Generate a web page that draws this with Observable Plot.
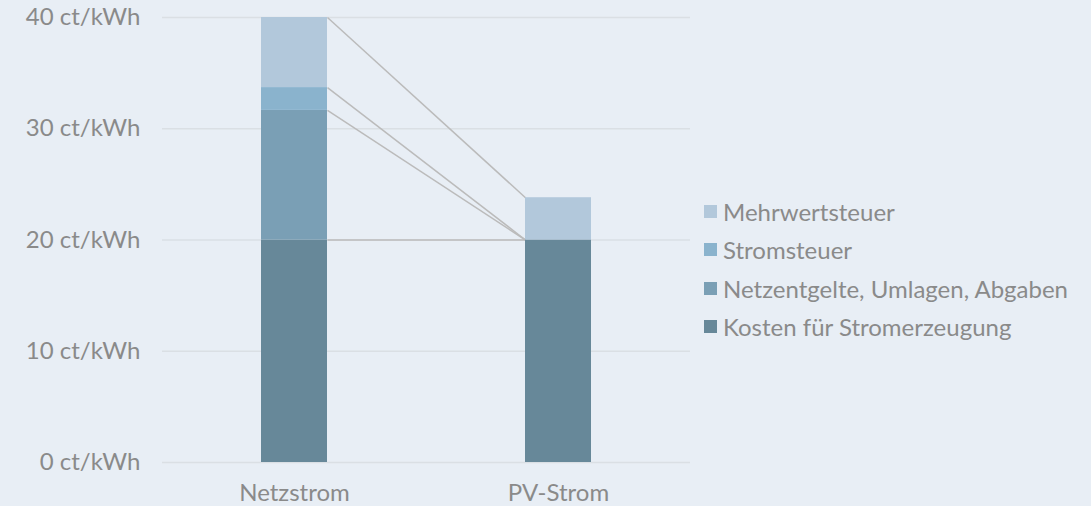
<!DOCTYPE html>
<html>
<head>
<meta charset="utf-8">
<script src="https://cdn.jsdelivr.net/npm/d3@7"></script>
<script src="https://cdn.jsdelivr.net/npm/@observablehq/plot@0.6"></script>
<style>
  html, body { margin: 0; padding: 0; background: #e8eef5; }
  #wrap { position: relative; width: 1091px; height: 506px; font-family: Lato, "Open Sans", sans-serif; }
  #legend { position: absolute; left: 704px; top: 192px; color: #8a8a8a; font-size: 24px; }
  .item { display: flex; align-items: center; height: 38.5px; white-space: nowrap; }
  .sw { width: 13px; height: 13px; margin-right: 6px; }
</style>
</head>
<body>
<div id="wrap"><div id="legend"></div></div>
<script>
const categories = ["Netzstrom", "PV-Strom"];
const components = ["Kosten für Stromerzeugung", "Netzentgelte, Umlagen, Abgaben", "Stromsteuer", "Mehrwertsteuer"];
const netzstromValues = [20, 11.65, 2.05, 6.3];
const pvStromValues = [20, 0, 0, 3.8];
const colors = ["#678899", "#7a9fb5", "#8ab3cd", "#b2c8db"];
const yTicks = [0, 10, 20, 30, 40];

const seriesByCategory = [netzstromValues, pvStromValues];
const data = [];
categories.forEach((c, i) => components.forEach((k, j) => data.push({category: c, idx: i, component: k, value: seriesByCategory[i][j]})));

const half = 0.125;
const cumN = d3.cumsum(netzstromValues);
const cumP = d3.cumsum(pvStromValues);
const links = components.map((k, j) => ({component: k, y1: cumN[j], y2: cumP[j]}));

const chart = Plot.plot({
  width: 1091,
  height: 506,
  marginLeft: 162,
  marginRight: 401,
  marginTop: 17,
  marginBottom: 44,
  style: {background: "#e8eef5", fontFamily: "Lato, sans-serif", fontSize: "24px", color: "#8a8a8a"},
  x: {domain: [0, 2], ticks: [0.5, 1.5], tickFormat: d => categories[Math.round(d - 0.5)], tickSize: 0, tickPadding: 21, label: null},
  y: {domain: [0, 40], ticks: yTicks, tickFormat: d => `${d} ct/kWh`, tickSize: 0, tickPadding: 22, label: null},
  color: {domain: components, range: colors},
  marks: [
    Plot.gridY(yTicks, {stroke: "#dadfe4", strokeOpacity: 1, strokeWidth: 1.5}),
    Plot.link(links, {x1: 0.5 + half, x2: 1.5 - half, y1: "y1", y2: "y2", stroke: "#bbbbbb", strokeWidth: 1.5}),
    Plot.rectY(data, {x1: d => d.idx + 0.5 - half, x2: d => d.idx + 0.5 + half, y: "value", fill: "component", order: components})
  ]
});
document.getElementById("wrap").prepend(chart);

const legend = document.getElementById("legend");
[...components].reverse().forEach(k => {
  const j = components.indexOf(k);
  const row = document.createElement("div");
  row.className = "item";
  row.innerHTML = `<span class="sw" style="background:${colors[j]}"></span><span>${k}</span>`;
  legend.appendChild(row);
});
</script>
</body>
</html>
